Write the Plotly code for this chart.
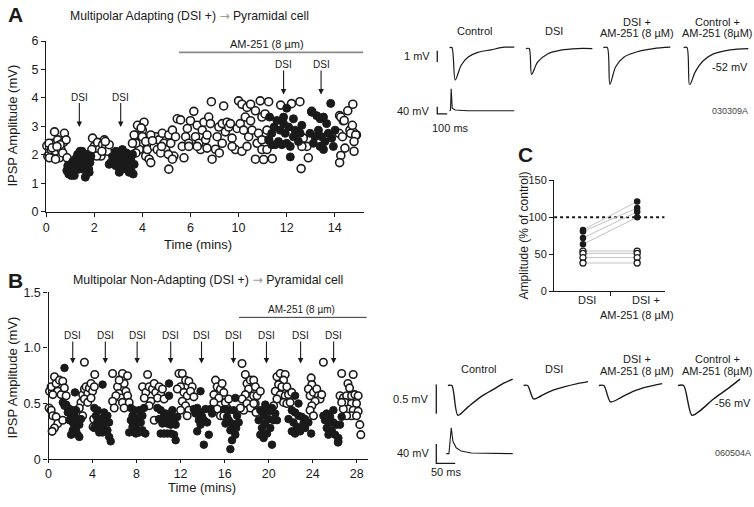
import plotly.graph_objects as go

W, H = 754, 507
FONT = "Liberation Sans"
INK = "#1a1a1a"

# ======================= DATA =======================
# ---- Panel A : IPSP amplitude (mV) vs time (axis units) ----
a_ctrl_pts = [
    (0.03, 2.32), (0.07, 1.96), (0.14, 1.9), (0.21, 2.19), (0.28, 2.41), (0.35, 2.81), (0.41, 2.13),
    (0.48, 2.53), (0.55, 1.9), (0.62, 2.19), (0.69, 2.07), (0.72, 2.44), (0.76, 2.76), (0.83, 2.53),
    (0.87, 1.9), (0.12, 2.41), (0.39, 1.85), (0.58, 2.36), (0.25, 2.25), (0.45, 2.3),
    (1.93, 2.59), (2.0, 2.3), (2.07, 2.19), (2.14, 2.44), (2.21, 2.19), (2.28, 1.96), (2.35, 2.36),
    (2.42, 2.53), (2.48, 2.3), (2.55, 2.13), (2.62, 2.36), (1.82, 1.9), (1.9, 2.19), (2.1, 1.96),
    (2.32, 2.13), (2.46, 2.47),
    (3.73, 2.7), (3.8, 3.04), (4.07, 3.15), (4.0, 2.87), (4.14, 1.96), (4.28, 1.85), (4.35, 1.73),
    (4.21, 2.19), (3.93, 2.41), (3.87, 2.19), (3.73, 2.41), (3.73, 2.07), (4.49, 2.3), (4.55, 2.64),
    (4.69, 2.53), (4.83, 2.76), (4.9, 2.41), (4.97, 2.19), (5.1, 2.7), (5.18, 2.41), (5.25, 2.87),
    (5.31, 1.96), (5.38, 2.64), (4.35, 2.7), (4.62, 2.19), (4.76, 2.07), (5.08, 2.02), (4.0, 2.64),
    (4.14, 2.47), (3.66, 2.7), (3.59, 2.41), (5.1, 1.5), (5.25, 1.85), (3.95, 2.95), (4.42, 2.5),
    (4.8, 2.3),
    (5.45, 3.27), (5.59, 3.23), (5.66, 2.3), (5.73, 1.9), (5.8, 2.64), (5.87, 2.93), (5.93, 2.41),
    (6.0, 3.2), (6.14, 3.53), (6.21, 2.64), (6.28, 3.04), (6.35, 2.41), (6.42, 2.19), (6.49, 2.87),
    (6.56, 3.15), (6.63, 2.53), (6.69, 2.7), (6.76, 3.33), (6.83, 3.1), (6.87, 3.87), (6.9, 1.85),
    (7.04, 2.2), (7.11, 2.64), (7.18, 2.98), (7.2, 2.07), (7.32, 3.1), (7.38, 3.72), (7.45, 2.81),
    (7.52, 3.15), (7.59, 2.98), (7.66, 3.1), (7.73, 2.59), (7.87, 2.19), (7.94, 2.93), (8.0, 3.9),
    (8.07, 3.1), (8.14, 3.78), (8.14, 2.13), (8.21, 2.87), (8.28, 3.33), (8.35, 3.67), (8.42, 2.64),
    (8.5, 3.78), (8.5, 3.2), (8.56, 2.87), (8.7, 3.55), (8.7, 1.85), (8.77, 2.41), (8.83, 2.76),
    (8.9, 3.9), (8.97, 3.33), (9.1, 3.44), (9.18, 2.87), (9.25, 3.87), (9.4, 1.87), (9.25, 2.53),
    (6.28, 2.3), (6.69, 2.24), (7.32, 2.41), (7.73, 2.3), (8.35, 2.3), (8.97, 2.19), (5.93, 2.3),
    (9.04, 1.84), (9.18, 2.19), (8.97, 2.53),
    (10.55, 3.87), (10.6, 1.52), (10.9, 1.9), (11.04, 3.53), (12.2, 3.38), (12.35, 3.2),
    (12.54, 3.55), (12.75, 3.78), (12.63, 2.87), (12.77, 2.8), (12.42, 2.24), (12.9, 2.7),
    (12.25, 3.33), (12.39, 3.21), (12.18, 2.76), (12.32, 2.64), (12.66, 2.76), (12.73, 3.04),
    (12.87, 2.7), (12.8, 2.47), (12.25, 1.98), (12.2, 1.73), (12.8, 2.13), (10.69, 2.59),
    (10.84, 2.3), (10.63, 2.3), (9.75, 3.75), (10.2, 3.8),
]
a_dsi_pts = [
    (0.86, 1.45), (0.9, 1.62), (0.94, 1.33), (1.04, 1.56), (1.04, 1.28), (1.13, 1.39), (1.21, 1.85),
    (1.27, 1.62), (1.31, 2.02), (1.38, 1.73), (1.45, 1.96), (1.49, 2.13), (1.55, 1.85), (1.59, 2.02),
    (1.63, 1.22), (1.66, 1.62), (1.73, 1.85), (1.77, 1.5), (1.82, 1.73), (1.86, 1.96), (1.17, 1.28),
    (1.35, 1.5), (1.52, 1.5), (1.7, 2.02), (1.79, 1.39), (1.41, 2.13), (1.1, 1.76),
    (2.62, 1.67), (2.76, 1.94), (2.9, 2.13), (2.97, 1.85), (3.1, 1.73), (3.17, 1.5), (3.24, 1.96),
    (3.31, 1.79), (3.38, 1.62), (3.45, 1.39), (3.52, 1.85), (3.59, 2.02), (3.66, 1.67), (3.04, 1.39),
    (2.9, 1.62), (3.17, 2.19), (3.34, 2.07), (3.52, 1.5), (3.62, 1.33), (3.04, 2.02), (2.83, 1.85),
    (2.69, 1.73),
    (9.29, 3.33), (9.48, 2.98), (9.38, 2.76), (9.59, 3.21), (9.73, 2.87), (9.66, 2.47), (9.52, 2.36),
    (9.87, 3.1), (9.94, 2.76), (10.0, 3.64), (10.08, 2.98), (10.0, 2.41), (10.15, 2.3), (10.28, 3.27),
    (10.35, 2.87), (10.28, 2.64), (10.49, 2.47), (10.56, 2.76), (10.63, 3.04), (10.15, 1.93),
    (9.8, 2.36), (9.38, 2.36), (9.25, 2.53), (9.87, 3.33),
    (11.04, 3.5), (11.25, 3.38), (11.39, 3.27), (11.53, 3.33), (11.32, 2.87), (11.46, 2.64),
    (11.18, 2.64), (11.66, 3.1), (11.73, 2.76), (11.59, 2.47), (11.87, 2.59), (11.94, 2.3),
    (11.83, 3.81), (11.11, 2.41), (11.39, 2.3), (12.01, 2.87), (10.97, 2.76), (11.53, 2.19),
]
a_xtick_vals = [0, 2, 4, 6, 8, 10, 12]
a_xtick_text = ["0", "2", "4", "6", "10", "12", "14"]
a_ytick_vals = [0, 1, 2, 3, 4, 5, 6]
a_dsi_times = [1.38, 3.10, 9.87, 11.43]
a_am251_span = [5.52, 13.18]

# ---- Panel B ----
b_ctrl_pts = [
    (0.09, 0.61), (0.24, 0.65), (0.54, 0.74), (0.69, 0.68), (0.99, 0.71), (1.29, 0.7), (0.84, 0.61),
    (1.14, 0.58), (1.44, 0.64), (1.6, 0.57), (0.39, 0.58), (0.05, 0.46), (0.24, 0.44), (0.39, 0.39),
    (0.69, 0.38), (0.84, 0.32), (0.54, 0.28), (0.33, 0.25), (1.29, 0.35), (3.26, 0.87),
    (2.95, 0.51), (3.1, 0.58), (3.26, 0.63), (3.41, 0.65), (3.56, 0.59), (3.71, 0.64), (3.86, 0.68),
    (4.0, 0.61), (4.16, 0.65), (3.26, 0.54), (3.56, 0.51), (3.1, 0.39), (3.86, 0.55), (2.8, 0.46),
    (4.05, 0.29), (4.1, 0.36),
    (4.2, 0.76), (5.82, 0.77), (6.72, 0.77), (7.18, 0.75), (6.87, 0.68), (6.27, 0.65), (6.42, 0.59),
    (6.57, 0.55), (6.12, 0.57), (5.82, 0.52), (6.72, 0.51), (5.97, 0.46), (7.03, 0.61), (7.18, 0.57),
    (7.33, 0.51), (6.87, 0.46), (6.42, 0.71),
    (9.0, 0.76), (8.54, 0.65), (8.84, 0.6), (9.14, 0.65), (9.44, 0.63), (9.6, 0.68), (9.74, 0.6),
    (10.05, 0.65), (10.2, 0.58), (9.9, 0.55), (9.3, 0.52), (8.7, 0.55), (9.6, 0.35), (10.35, 0.63),
    (10.5, 0.54), (9.14, 0.48),
    (11.85, 0.77), (12.15, 0.77), (12.45, 0.71), (12.75, 0.7), (13.05, 0.65), (12.0, 0.65),
    (11.7, 0.63), (12.3, 0.6), (12.6, 0.57), (12.9, 0.61), (12.15, 0.52), (12.45, 0.48),
    (12.75, 0.44), (12.6, 0.39), (12.0, 0.44), (13.2, 0.56),
    (15.17, 0.71), (15.32, 0.65), (15.62, 0.63), (15.77, 0.68), (15.92, 0.6), (15.02, 0.58),
    (15.47, 0.55), (15.02, 0.51), (15.32, 0.45), (15.62, 0.39), (15.92, 0.39), (16.22, 0.46),
    (16.07, 0.51), (16.37, 0.54),
    (17.58, 0.86), (17.88, 0.76), (18.03, 0.68), (18.33, 0.71), (18.18, 0.63), (17.88, 0.58),
    (17.58, 0.54), (18.03, 0.5), (18.33, 0.46), (18.63, 0.57), (18.78, 0.5), (17.73, 0.44),
    (17.43, 0.46), (18.64, 0.71), (18.79, 0.65), (18.94, 0.57), (18.64, 0.5), (18.85, 0.42),
    (19.24, 0.61),
    (20.75, 0.74), (21.05, 0.77), (21.5, 0.76), (21.35, 0.71), (20.9, 0.67), (21.2, 0.65),
    (21.65, 0.65), (20.6, 0.61), (21.05, 0.58), (21.5, 0.57), (21.8, 0.58), (22.1, 0.6),
    (21.35, 0.51), (21.65, 0.5), (21.95, 0.51), (20.75, 0.54), (20.45, 0.48),
    (23.86, 0.73), (23.92, 0.67), (23.61, 0.63), (23.76, 0.57), (24.07, 0.6), (24.37, 0.63),
    (24.52, 0.57), (24.67, 0.54), (24.22, 0.52), (23.92, 0.48), (23.76, 0.44), (24.07, 0.39),
    (24.82, 0.58), (24.97, 0.87),
    (26.63, 0.77), (27.68, 0.76), (27.2, 0.68), (27.35, 0.64), (26.48, 0.57), (26.78, 0.55),
    (27.08, 0.57), (27.53, 0.57), (27.83, 0.58), (28.13, 0.57), (26.93, 0.51), (27.53, 0.5),
    (27.98, 0.5), (27.23, 0.45), (27.68, 0.44), (28.13, 0.43), (27.53, 0.39), (27.98, 0.39),
    (28.28, 0.31), (28.37, 0.22), (27.08, 0.39), (26.78, 0.45), (26.63, 0.51),
]
b_dsi_pts = [
    (1.3, 0.51), (1.6, 0.49), (1.75, 0.46), (1.9, 0.45), (2.05, 0.39), (2.2, 0.33), (2.35, 0.29),
    (2.5, 0.26), (2.65, 0.22), (2.8, 0.2), (2.2, 0.26), (2.05, 0.22), (2.35, 0.39), (2.5, 0.36),
    (2.65, 0.32), (2.8, 0.31), (2.95, 0.36), (1.9, 0.35), (1.75, 0.42), (1.45, 0.48), (2.5, 0.44),
    (2.2, 0.44), (1.45, 0.82), (2.4, 0.6),
    (4.16, 0.46), (4.31, 0.39), (4.46, 0.35), (4.61, 0.31), (4.76, 0.28), (4.91, 0.24), (5.05, 0.32),
    (5.2, 0.36), (5.35, 0.26), (5.51, 0.2), (5.65, 0.16), (4.76, 0.36), (4.46, 0.44), (5.05, 0.42),
    (5.35, 0.39), (5.5, 0.33), (4.91, 0.67), (4.61, 0.24), (4.31, 0.31), (4.16, 0.28),
    (7.48, 0.46), (7.63, 0.39), (7.78, 0.35), (7.93, 0.31), (8.08, 0.26), (8.23, 0.24), (7.33, 0.24),
    (8.38, 0.33), (8.53, 0.39), (8.68, 0.46), (8.23, 0.44), (7.78, 0.44), (8.08, 0.37), (8.53, 0.26),
    (7.63, 0.29), (7.48, 0.35), (7.93, 0.23), (8.8, 0.23),
    (10.95, 0.68), (10.95, 0.57), (9.89, 0.46), (10.19, 0.44), (10.5, 0.39), (10.65, 0.35),
    (10.8, 0.32), (10.35, 0.32), (11.1, 0.39), (11.25, 0.44), (11.4, 0.35), (11.55, 0.31),
    (11.1, 0.31), (10.19, 0.23), (10.5, 0.23), (10.8, 0.23), (11.1, 0.23), (11.4, 0.22),
    (11.55, 0.17), (10.65, 0.41), (10.04, 0.36), (11.7, 0.38),
    (13.51, 0.46), (13.81, 0.42), (13.96, 0.38), (13.36, 0.41), (13.2, 0.45), (14.11, 0.35),
    (14.26, 0.45), (13.66, 0.35), (13.81, 0.31), (13.51, 0.25), (14.56, 0.22), (14.11, 0.13),
    (13.81, 0.61), (14.41, 0.33), (14.86, 0.41), (14.71, 0.45),
    (16.07, 0.32), (16.37, 0.35), (16.67, 0.32), (16.52, 0.26), (16.22, 0.38), (16.82, 0.28),
    (16.97, 0.22), (16.67, 0.17), (16.52, 0.09), (16.97, 0.55), (16.82, 0.44), (17.13, 0.39),
    (17.28, 0.33), (16.37, 0.44), (15.97, 0.45), (17.05, 0.28),
    (19.24, 0.44), (19.54, 0.39), (19.85, 0.44), (20.0, 0.36), (19.69, 0.32), (19.39, 0.28),
    (19.24, 0.22), (19.54, 0.19), (19.85, 0.23), (20.15, 0.28), (20.3, 0.13), (20.45, 0.35),
    (20.6, 0.41), (20.75, 0.35), (19.69, 0.49), (20.3, 0.46), (20.0, 0.43), (19.09, 0.35),
    (22.4, 0.57), (22.1, 0.44), (22.4, 0.42), (22.71, 0.39), (23.01, 0.38), (23.31, 0.36),
    (22.25, 0.33), (22.56, 0.29), (22.1, 0.25), (22.4, 0.23), (22.86, 0.25), (23.31, 0.28),
    (23.61, 0.33), (23.16, 0.32), (22.71, 0.5), (21.8, 0.36), (23.86, 0.23),
    (24.97, 0.39), (25.27, 0.41), (25.58, 0.38), (25.88, 0.33), (26.18, 0.31), (25.27, 0.28),
    (25.73, 0.26), (26.03, 0.22), (26.33, 0.19), (25.43, 0.22), (26.33, 0.16), (26.48, 0.31),
    (25.43, 0.33), (25.12, 0.35), (25.88, 0.44), (26.63, 0.38), (26.3, 0.15),
]
b_xtick_vals = [0, 4, 8, 12, 16, 20, 24, 28]
b_ytick_vals = [0, 0.5, 1.0, 1.5]
b_ytick_text = ["0", "0.5", "1.0", "1.5"]
b_dsi_times = [2.2, 5.16, 8.05, 11.1, 13.9, 16.8, 19.8, 22.9, 25.9]
b_am251_span = [17.3, 28.9]

# ---- Panel C : amplitude (% of control) ----
c_groups = [0, 1]
c_group_names = ["DSI", "DSI +", "AM-251 (8 µM)"]
c_sens_dsi = [82.9, 80.7, 72.0, 63.6]      # filled symbols
c_sens_am = [121.5, 112.7, 107.5, 100.0]
c_ins_dsi = [54.4, 51.3, 45.6, 38.2]       # open symbols
c_ins_am = [54.4, 51.3, 45.6, 38.2]
c_ytick_vals = [0, 50, 100, 150]
c_ref_level = 100

# ---- Example traces, upper row (ms, mV relative to baseline) ----
ta_ctrl_t = [0, 24, 57, 117, 184, 284, 417, 550, 650]
ta_ctrl_v = [0, 0, -2.85, -1.56, -0.85, -0.43, -0.2, 0.03, 0.03]
ta_dsi_t = [0, 33, 57, 117, 217, 350, 517, 667]
ta_dsi_v = [-0.09, -0.09, -2.36, -1.29, -0.57, -0.23, -0.09, -0.09]
ta_dsiam_t = [0, 40, 66, 123, 206, 340, 506, 673]
ta_dsiam_v = [0, 0, -3.27, -1.71, -0.85, -0.37, -0.09, 0.03]
ta_ctrlam_t = [0, 34, 60, 117, 200, 300, 467, 650]
ta_ctrlam_v = [0, 0, -3.33, -2.14, -1.14, -0.56, -0.2, -0.09]
ta_spike_t = [0, 10, 17, 27, 57, 184, 650]
ta_spike_v = [0, 4, 124, 15, 4, 0, 0]
ta_scale_mv, ta_scale_spike_mv, ta_scale_ms = 1, 40, 100

# ---- Example traces, lower row ----
tb_ctrl_t = [0, 10.5, 26.3, 52.6, 87.6, 122.6, 148.9, 171]
tb_ctrl_v = [0, 0, -0.51, -0.37, -0.19, -0.057, 0.043, 0.11]
tb_dsi_t = [0, 10.5, 26.3, 45.5, 71.8, 106.8, 142, 170]
tb_dsi_v = [0, 0, -0.23, -0.18, -0.095, -0.023, 0.033, 0.067]
tb_dsiam_t = [0, 13, 30.8, 57, 92, 127, 167]
tb_dsiam_v = [0, 0, -0.28, -0.21, -0.095, -0.023, 0.033]
tb_ctrlam_t = [0, 14.7, 36.8, 58.6, 93.6, 128.9, 163.8]
tb_ctrlam_v = [0, 0, -0.51, -0.43, -0.23, -0.067, 0.11]
tb_spike_t = [0, 7.1, 13.2, 17.6, 26.3, 39.5, 65.8, 175.4]
tb_spike_v = [0, 0, 53.2, 25.2, 12, 5.2, 1.2, 0]
tb_scale_mv, tb_scale_spike_mv, tb_scale_ms = 0.5, 40, 50

# ======================= LAYOUT CONSTANTS =======================
def px(x):
    return x / W


def py(y):
    return 1 - y / H


top_offsets = [683, 1450, 2227, 3033]
bot_offsets = [175.4, 375.3, 574.1, 783]
top_spike_offset = 683
bot_spike_offset = 171

fig = go.Figure()


def xy(pts):
    return [p[0] for p in pts], [p[1] for p in pts]


open_marker = dict(symbol="circle", color="white", line=dict(color=INK, width=1.6))
fill_marker = dict(symbol="circle", color=INK, line=dict(color=INK, width=1))

# Panel A
x, y = xy(a_ctrl_pts)
fig.add_trace(go.Scatter(x=x, y=y, mode="markers", marker=dict(size=8, **open_marker),
                         xaxis="x", yaxis="y", cliponaxis=False))
x, y = xy(a_dsi_pts)
fig.add_trace(go.Scatter(x=x, y=y, mode="markers", marker=dict(size=8, **fill_marker),
                         xaxis="x", yaxis="y", cliponaxis=False))
fig.add_trace(go.Scatter(x=a_am251_span, y=[5.6, 5.6], mode="lines",
                         line=dict(color="#8a8a8a", width=1.8), xaxis="x", yaxis="y", cliponaxis=False))

# Panel B
x, y = xy(b_ctrl_pts)
fig.add_trace(go.Scatter(x=x, y=y, mode="markers", marker=dict(size=7.5, **open_marker),
                         xaxis="x2", yaxis="y2", cliponaxis=False))
x, y = xy(b_dsi_pts)
fig.add_trace(go.Scatter(x=x, y=y, mode="markers", marker=dict(size=7.5, **fill_marker),
                         xaxis="x2", yaxis="y2", cliponaxis=False))
fig.add_trace(go.Scatter(x=b_am251_span, y=[1.274, 1.274], mode="lines",
                         line=dict(color="#333", width=1), xaxis="x2", yaxis="y2", cliponaxis=False))

# Panel C
c_xrange = [-0.533, 1.507]
fig.add_trace(go.Scatter(x=c_xrange, y=[c_ref_level] * 2, mode="lines",
                         line=dict(color=INK, width=2, dash="dot"), xaxis="x3", yaxis="y3"))
for d, a in zip(c_sens_dsi + c_ins_dsi, c_sens_am + c_ins_am):
    fig.add_trace(go.Scatter(x=c_groups, y=[d, a], mode="lines",
                             line=dict(color="#c4c4c4", width=1), xaxis="x3", yaxis="y3"))
fig.add_trace(go.Scatter(x=[0] * 4 + [1] * 4, y=c_ins_dsi + c_ins_am, mode="markers",
                         marker=dict(size=6, symbol="circle", color="white", line=dict(color=INK, width=1.3)),
                         xaxis="x3", yaxis="y3", cliponaxis=False))
fig.add_trace(go.Scatter(x=[0] * 4 + [1] * 4, y=c_sens_dsi + c_sens_am, mode="markers",
                         marker=dict(size=6.5, color=INK), xaxis="x3", yaxis="y3", cliponaxis=False))

# Upper example traces
for off, (tt, vv) in zip(top_offsets, [(ta_ctrl_t, ta_ctrl_v), (ta_dsi_t, ta_dsi_v),
                                       (ta_dsiam_t, ta_dsiam_v), (ta_ctrlam_t, ta_ctrlam_v)]):
    fig.add_trace(go.Scatter(x=[off + t for t in tt], y=vv, mode="lines",
                             line=dict(color=INK, width=1.2, shape="spline", smoothing=0.8),
                             xaxis="x4", yaxis="y4"))
fig.add_trace(go.Scatter(x=[560, 560], y=[-0.28, -0.28 - ta_scale_mv], mode="lines",
                         line=dict(color=INK, width=1.3), xaxis="x4", yaxis="y4"))
fig.add_trace(go.Scatter(x=[top_spike_offset + t for t in ta_spike_t], y=ta_spike_v, mode="lines",
                         line=dict(color=INK, width=1.1), xaxis="x5", yaxis="y5"))
fig.add_trace(go.Scatter(x=[560, 560, 560 + ta_scale_ms], y=[21.9, 21.9 - ta_scale_spike_mv, 21.9 - ta_scale_spike_mv],
                         mode="lines", line=dict(color=INK, width=1.3), xaxis="x5", yaxis="y5"))

# Lower example traces
for off, (tt, vv) in zip(bot_offsets, [(tb_ctrl_t, tb_ctrl_v), (tb_dsi_t, tb_dsi_v),
                                       (tb_dsiam_t, tb_dsiam_v), (tb_ctrlam_t, tb_ctrlam_v)]):
    fig.add_trace(go.Scatter(x=[off + t for t in tt], y=vv, mode="lines",
                             line=dict(color=INK, width=1.4, shape="spline", smoothing=0.8),
                             xaxis="x6", yaxis="y6"))
fig.add_trace(go.Scatter(x=[144.7, 144.7], y=[0.017, 0.017 - tb_scale_mv], mode="lines",
                         line=dict(color=INK, width=1.3), xaxis="x6", yaxis="y6"))
fig.add_trace(go.Scatter(x=[bot_spike_offset + t for t in tb_spike_t], y=tb_spike_v, mode="lines",
                         line=dict(color=INK, width=1.1), xaxis="x7", yaxis="y7"))
fig.add_trace(go.Scatter(x=[144.7, 144.7, 144.7 + tb_scale_ms], y=[20, 20 - tb_scale_spike_mv, 20 - tb_scale_spike_mv],
                         mode="lines", line=dict(color=INK, width=1.3), xaxis="x7", yaxis="y7"))

axis_common = dict(showline=True, linecolor=INK, linewidth=1.4, ticks="outside", ticklen=4,
                   tickwidth=1.4, tickcolor=INK, showgrid=False, zeroline=False,
                   tickfont=dict(family=FONT, size=12.5, color=INK), fixedrange=True)
hidden = dict(visible=False, fixedrange=True)

fig.update_layout(
    width=W, height=H, autosize=False,
    margin=dict(l=0, r=0, t=0, b=0),
    paper_bgcolor="white", plot_bgcolor="white",
    showlegend=False,
    font=dict(family=FONT, color=INK),
    xaxis=dict(domain=[px(43.3), px(362.1)], range=[0, 13.2], tickvals=a_xtick_vals,
               ticktext=a_xtick_text, anchor="y", **axis_common),
    yaxis=dict(domain=[py(210.7), py(35)], range=[0, 6], tickvals=a_ytick_vals, anchor="x", **axis_common),
    xaxis2=dict(domain=[px(45.7), px(366.2)], range=[0, 29], tickvals=b_xtick_vals, anchor="y2",
                **{**axis_common, "ticklen": 3}),
    yaxis2=dict(domain=[py(465), py(293.3)], range=[0, 1.5], tickvals=b_ytick_vals,
                ticktext=b_ytick_text, anchor="x2", **axis_common),
    xaxis3=dict(domain=[px(553.3), px(664.3)], range=c_xrange, tickvals=[0.5], ticktext=[""],
                anchor="y3", **{**axis_common, "linewidth": 1.2, "ticklen": 4, "tickwidth": 1.2}),
    yaxis3=dict(domain=[py(292.3), py(178.3)], range=[0, 150], tickvals=c_ytick_vals, anchor="x3",
                **{**axis_common, "linewidth": 1.2, "ticklen": 4, "tickwidth": 1.2,
                   "tickfont": dict(family=FONT, size=11, color=INK)}),
    xaxis4=dict(domain=[px(380), 1], range=[0, 3740], anchor="y4", **hidden),
    yaxis4=dict(domain=[py(150), 1], range=[-108.3 / 11.7, 41.7 / 11.7], anchor="x4", **hidden),
    xaxis5=dict(domain=[px(380), 1], range=[0, 3740], anchor="y5", **hidden),
    yaxis5=dict(domain=[py(115), py(80)], range=[-45.5, 146.3], anchor="x5", **hidden),
    xaxis6=dict(domain=[px(380), 1], range=[0, 983.6], anchor="y6", **hidden),
    yaxis6=dict(domain=[py(440), py(340)], range=[-0.845, 0.82], anchor="x6", **hidden),
    xaxis7=dict(domain=[px(380), 1], range=[0, 983.6], anchor="y7", **hidden),
    yaxis7=dict(domain=[py(480), py(425)], range=[-41.4, 68.6], anchor="x7", **hidden),
)

ann = []


def text(x, y, s, size=11, xanchor="center", yanchor="middle", angle=0, bold=False, color=INK):
    ann.append(dict(x=px(x), y=py(y), xref="paper", yref="paper", text=("<b>%s</b>" % s) if bold else s,
                    showarrow=False, xanchor=xanchor, yanchor=yanchor, textangle=angle,
                    font=dict(family=FONT, size=size, color=color)))


GRAY_ARROW = "<span style='color:#9a9a9a;font-family:DejaVu Sans'>\u2192</span>"
# Panel letters and titles
text(3, 8, "A", size=21, xanchor="left", bold=True)
text(187, 9, "Multipolar Adapting (DSI +) %s Pyramidal cell" % GRAY_ARROW, size=12.2)
text(10, 122, "IPSP Amplitude (mV)", size=13, angle=-90)
text(196, 244, "Time (mins)", size=13)
text(3, 281, "B", size=21, xanchor="left", bold=True)
text(206, 280, "Multipolar Non-Adapting (DSI +) %s Pyramidal cell" % GRAY_ARROW, size=12.4)
text(10, 381, "IPSP Amplitude (mV)", size=13, angle=-90)
text(200, 494, "Time (mins)", size=13)
text(525, 152, "C", size=21, bold=True)
text(523, 235, "Amplitude (% of control)", size=12, angle=-90)
text(586, 301, c_group_names[0], size=11)
text(646, 301, c_group_names[1], size=11)
text(637, 316.5, c_group_names[2], size=11)

# AM-251 labels
ann.append(dict(x=9.18, y=5.89, xref="x", yref="y", text="AM-251 (8 \u00b5m)", showarrow=False,
                font=dict(family=FONT, size=11, color=INK)))
ann.append(dict(x=23.0, y=1.345, xref="x2", yref="y2", text="AM-251 (8 \u00b5m)", showarrow=False,
                font=dict(family=FONT, size=10, color=INK)))

# DSI arrows
a_tips = [2.98, 2.98, 4.12, 4.12]
for t, tip in zip(a_dsi_times, a_tips):
    ann.append(dict(x=t, y=tip, xref="x", yref="y", text="DSI", showarrow=True, ax=0, ay=-30,
                    arrowhead=2, arrowsize=1, arrowwidth=1.1, arrowcolor=INK, borderpad=0,
                    font=dict(family=FONT, size=10, color=INK)))
for t in b_dsi_times:
    ann.append(dict(x=t, y=0.86, xref="x2", yref="y2", text="DSI", showarrow=True, ax=0, ay=-28,
                    arrowhead=2, arrowsize=1, arrowwidth=1.1, arrowcolor=INK, borderpad=0,
                    font=dict(family=FONT, size=10, color=INK)))

# Upper trace labels
text(473, 25, "Control")
text(553, 25, "DSI")
text(637, 15, "DSI +")
text(637, 27, "AM-251 (8 \u00b5M)")
text(717, 15, "Control +")
text(717, 27, "AM-251 (8\u00b5M)")
text(431, 50, "1 mV", xanchor="right")
text(430, 107, "40 mV", xanchor="right")
text(449, 124, "100 ms")
text(750, 62, "-52 mV", xanchor="right")
text(750, 107, "030309A", size=9, xanchor="right", color="#444")

# Lower trace labels
text(477, 372, "Control")
text(553, 372, "DSI")
text(637, 362, "DSI +")
text(637, 374, "AM-251 (8 \u00b5M)")
text(717, 362, "Control +")
text(717, 374, "AM-251 (8\u00b5M)")
text(430, 403, "0.5 mV", xanchor="right")
text(430, 459, "40 mV", xanchor="right")
text(445, 478, "50 ms")
text(753, 407, "-56 mV", xanchor="right")
text(753, 459, "060504A", size=9, xanchor="right", color="#444")

fig.update_layout(annotations=ann)

fig.write_html("out.html", config={"displayModeBar": False},
               post_script="document.body.style.margin='0';")
